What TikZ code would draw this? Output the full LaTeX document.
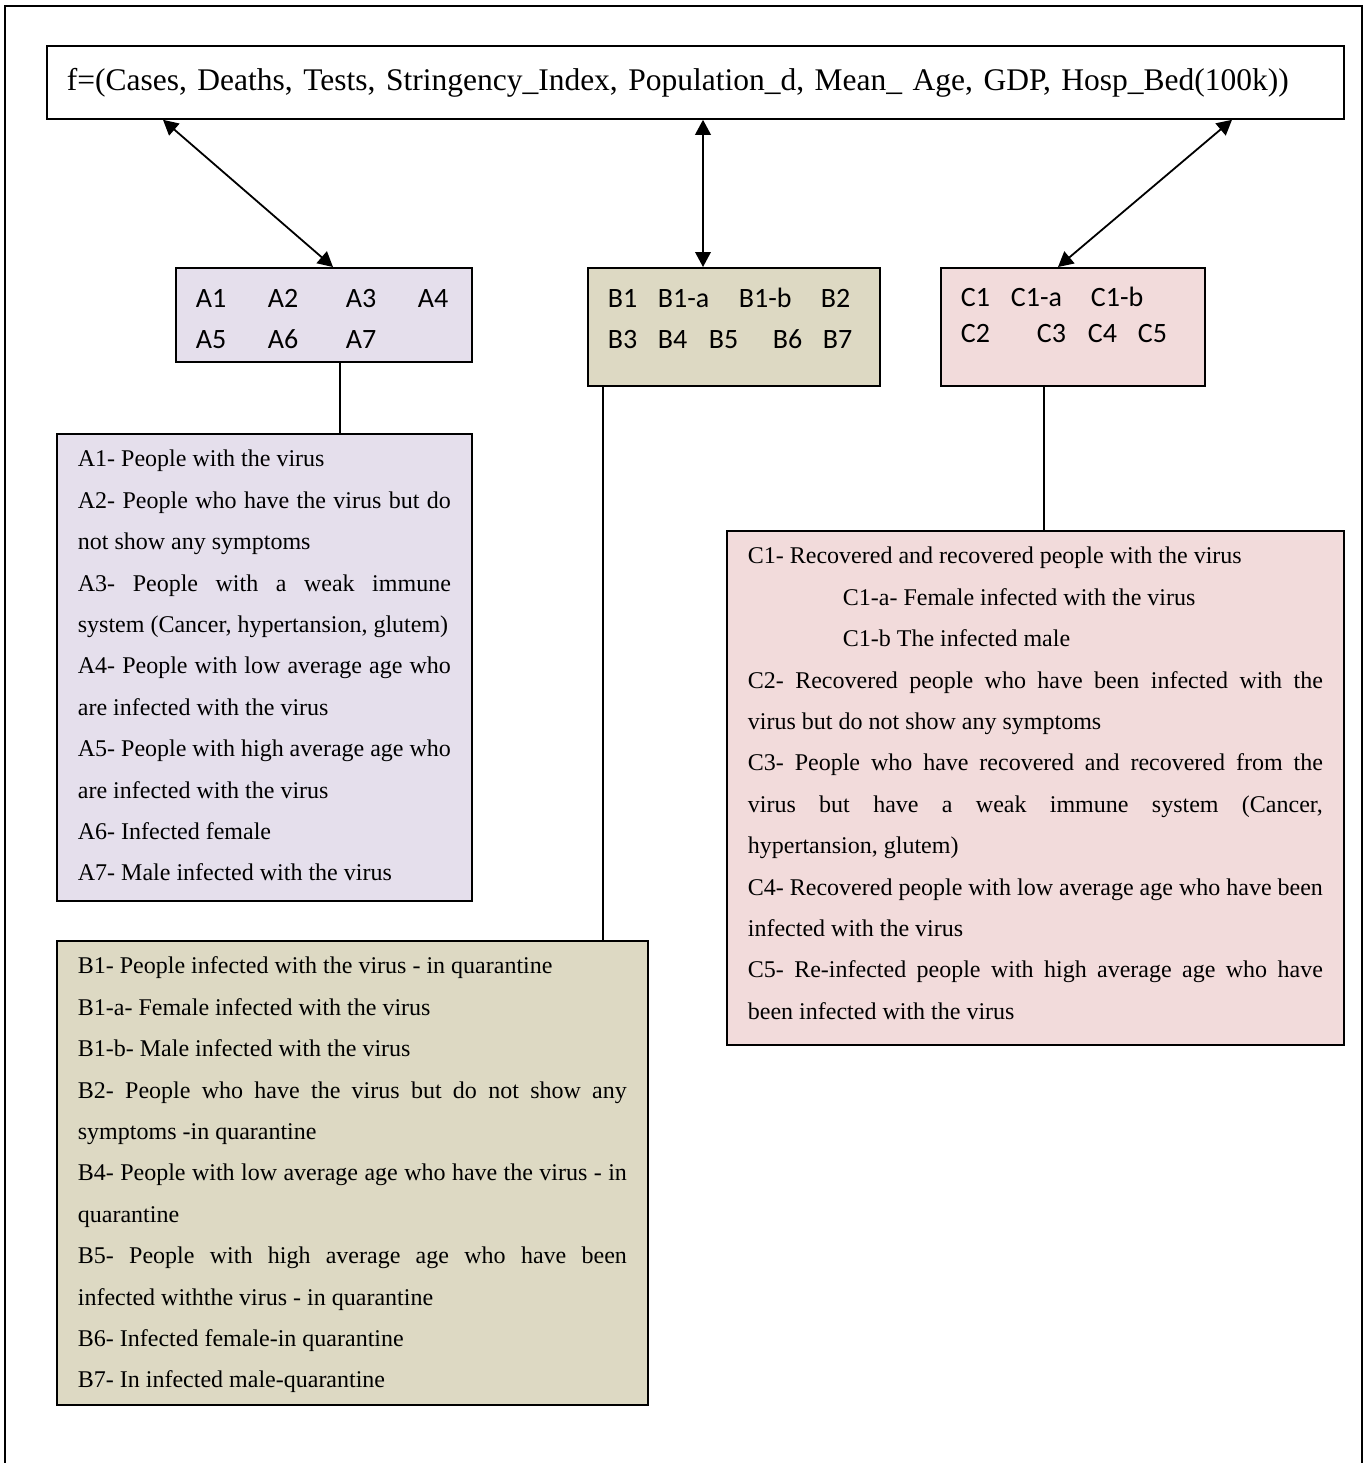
\documentclass[tikz,border=0pt]{standalone}
\usepackage{fontspec}
\setmainfont{Liberation Serif}
\newfontfamily\calibri{Carlito}
\usetikzlibrary{arrows.meta}
\definecolor{lilac}{RGB}{229,223,236}
\definecolor{khaki}{RGB}{221,217,195}
\definecolor{blush}{RGB}{242,219,219}
\newcommand{\notebox}[3]{\parbox[c][#1][t]{#2}{\fontsize{12}{20.7}\selectfont
  \hyphenpenalty=10000 \exhyphenpenalty=10000 \tolerance=10000
  \vspace*{2pt}\strut #3}}
\newcommand{\tagcol}[2]{\makebox[#1][l]{#2}}

\begin{document}
\begin{tikzpicture}[x=0.5pt,y=0.5pt,yscale=-1,
  frame/.style={draw,line width=0.9pt,anchor=north west,inner ysep=0pt},
  notes/.style={frame,inner xsep=10.5pt},
  tags/.style={frame,inner xsep=10pt,font=\calibri\fontsize{14}{20.5}\selectfont},
  twoway/.style={{Triangle[length=7.5pt,width=7.8pt]}-{Triangle[length=7.5pt,width=7.8pt]},line width=0.9pt},
  link/.style={line width=0.8pt}]
	\useasboundingbox (0,0) rectangle (1363,1463);
	%outer frame, open at the foot of the page
	\draw [line width=0.6pt] (5,1463) -- (5,6) -- (1362,6) -- (1362,1463) ;

	% Function box
	\node [frame,inner xsep=10pt,minimum width=648.5pt,minimum height=36.5pt,text width=628.5pt,align=left,font=\fontsize{15.75}{19}\selectfont] (f) at (46,45)
	{f=(Cases, Deaths, Tests, Stringency\_Index, Population\_d, Mean\_ Age, GDP, Hosp\_Bed(100k))};

	% Group boxes
	\node [tags,fill=lilac] (sA) at (175,267) {\parbox[c][47pt][t]{128pt}{\vspace*{5.2pt}%
	\strut\tagcol{36pt}{A1}\tagcol{39pt}{A2}\tagcol{36pt}{A3}A4\\
	\strut\tagcol{36pt}{A5}\tagcol{39pt}{A6}A7}};
	\node [tags,fill=khaki] (sB) at (587,267) {\parbox[c][59pt][t]{126pt}{\vspace*{5.2pt}%
	\strut\tagcol{25pt}{B1}\tagcol{40.5pt}{B1-a}\tagcol{41pt}{B1-b}B2\\
	\strut\tagcol{25pt}{B3}\tagcol{25.5pt}{B4}\tagcol{32pt}{B5}\tagcol{25pt}{B6}B7}};
	\node [tags,fill=blush,font=\calibri\fontsize{14}{18}\selectfont] (sC) at (940,267) {\parbox[c][59pt][t]{112pt}{\vspace*{6.9pt}%
	\strut\tagcol{25pt}{C1}\tagcol{40pt}{C1-a}C1-b\\
	\strut\tagcol{38pt}{C2}\tagcol{25.5pt}{C3}\tagcol{25pt}{C4}C5}};

	% Description boxes
	\node [notes,fill=lilac] (tA) at (56,433) {\notebox{233.5pt}{186.5pt}{%
	A1- People with the virus\par
	A2- People who have the virus but do\linebreak not show any symptoms\par
	A3- People with a weak immune\linebreak system (Cancer, hypertansion, glutem)\par
	A4- People with low average age who\linebreak are infected with the virus\par
	A5- People with high average age who\linebreak are infected with the virus\par
	A6- Infected female\par
	A7- Male infected with the virus}};
	\node [notes,fill=khaki] (tB) at (56,940) {\notebox{232pt}{274.5pt}{%
	B1- People infected with the virus - in quarantine\par
	B1-a- Female infected with the virus\par
	B1-b- Male infected with the virus\par
	B2- People who have the virus but do not show any\linebreak symptoms -in quarantine\par
	B4- People with low average age who have the virus - in\linebreak quarantine\par
	B5- People with high average age who have been\linebreak infected withthe virus - in quarantine\par
	B6- Infected female-in quarantine\par
	B7- In infected male-quarantine}};
	\node [notes,fill=blush] (tC) at (726,530) {\notebox{257pt}{287.5pt}{%
	C1- Recovered and recovered people with the virus\par
	\hspace*{47.5pt}C1-a- Female infected with the virus\par
	\hspace*{47.5pt}C1-b The infected male\par
	C2- Recovered people who have been infected with the\linebreak virus but do not show any symptoms\par
	C3- People who have recovered and recovered from the\linebreak virus but have a weak immune system (Cancer,\linebreak hypertansion, glutem)\par
	C4- Recovered people with low average age who have been\linebreak infected with the virus\par
	C5- Re-infected people with high average age who have\linebreak been infected with the virus}};

	% Arrows
	\draw [twoway] ([xshift=58.5pt]f.south west) -- ([xshift=79pt]sA.north west) ;
	\draw [twoway] ([xshift=328.5pt]f.south west) -- ([xshift=58pt]sB.north west) ;
	\draw [twoway] ([xshift=593pt]f.south west) -- ([xshift=59pt]sC.north west) ;

	% Lines
	\draw [link] ([xshift=82.5pt]sA.south west) -- ([xshift=142pt]tA.north west) ;
	\draw [link] ([xshift=8pt]sB.south west) -- ([xshift=273.5pt]tB.north west) ;
	\draw [link] ([xshift=52pt]sC.south west) -- ([xshift=159pt]tC.north west) ;
\end{tikzpicture}
\end{document}
